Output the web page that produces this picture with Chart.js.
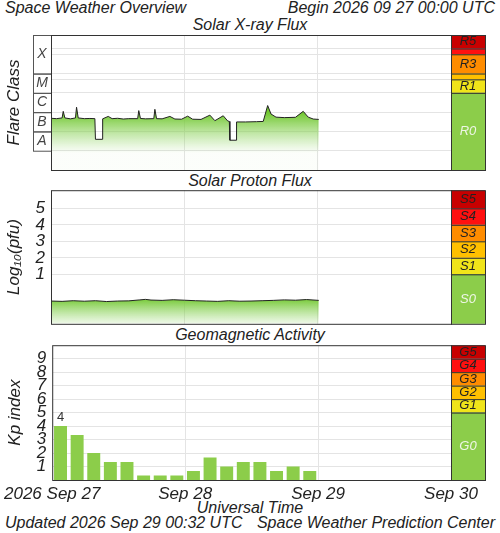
<!DOCTYPE html>
<html>
<head>
<meta charset="utf-8">
<script src="https://cdn.jsdelivr.net/npm/chart.js@4"></script>
<style>
  body { margin: 0; background: #fff; font-family: "Liberation Sans", sans-serif; font-style: italic; color: #222; }
  #page { position: relative; width: 500px; height: 533px; }
  .t { position: absolute; font-size: 16px; white-space: nowrap; }
  .c { position: absolute; left: 0; width: 500px; }
</style>
</head>
<body>
<div id="page">
  <div class="t" style="left:5px;top:-1px">Space Weather Overview</div>
  <div class="t" style="right:5px;top:-1px">Begin 2026 09 27 00:00 UTC</div>
  <div class="t" style="left:0;width:500px;text-align:center;top:16px">Solar X-ray Flux</div>
  <div class="t" style="left:0;width:500px;text-align:center;top:172px">Solar Proton Flux</div>
  <div class="t" style="left:0;width:500px;text-align:center;top:326px">Geomagnetic Activity</div>
  <div class="t" style="left:0;width:500px;text-align:center;top:499px">Universal Time</div>
  <div class="t" style="left:5px;top:514px">Updated 2026 Sep 29 00:32 UTC</div>
  <div class="t" style="right:5px;top:514px">Space Weather Prediction Center</div>
  <div class="c" style="top:34px;height:137px"><canvas id="xray"></canvas></div>
  <div class="c" style="top:174px;height:166px"><canvas id="proton"></canvas></div>
  <div class="c" style="top:329px;height:175px"><canvas id="kp"></canvas></div>
</div>
<script>
// hours since 2026-09-27 00:00 UTC
const xrayHours = [0, 1, 2, 2.2, 2.5, 3.5, 4.4, 4.6, 4.9, 6, 7, 7.9, 8.0, 9.2, 9.3, 10.3, 11, 12, 13, 14, 15.6, 15.8, 16.1, 17, 18.5, 18.7, 19, 20, 21.4, 22.3, 23.5, 24.6, 25.5, 27, 28.6, 29.5, 31, 31.8, 32.1, 32.2, 33.3, 33.4, 35, 37, 38.2, 39.0, 39.6, 40.5, 42, 44, 45.4, 46.3, 47.2, 48.2];
const xrayFlux = [4.8e-7, 4.6e-7, 5e-7, 1.1e-6, 5e-7, 4.5e-7, 5e-7, 1.8e-6, 5e-7, 4.6e-7, 4.7e-7, 4.6e-7, 3.9e-8, 3.9e-8, 4.5e-7, 6e-7, 4.6e-7, 4.8e-7, 4.4e-7, 4.6e-7, 4.6e-7, 1.2e-6, 4.7e-7, 4.5e-7, 4.6e-7, 1.4e-6, 4.6e-7, 4.5e-7, 6e-7, 4.4e-7, 4.3e-7, 6.2e-7, 4.3e-7, 4.2e-7, 7e-7, 3.6e-7, 6.5e-7, 3.5e-7, 3.3e-7, 3.5e-8, 3.5e-8, 3.1e-7, 3.1e-7, 3.2e-7, 3.3e-7, 2.2e-6, 8e-7, 5.5e-7, 5.2e-7, 5.4e-7, 1.1e-6, 5.5e-7, 4.4e-7, 4.2e-7];

const protonHours = [0, 2, 4, 6, 8, 10, 12, 14, 16, 17, 18, 20, 22, 24, 26, 28, 30, 32, 34, 36, 38, 40, 42, 44, 46, 48.2];
const protonLog = [-0.62, -0.64, -0.6, -0.63, -0.6, -0.65, -0.62, -0.61, -0.55, -0.52, -0.56, -0.58, -0.54, -0.57, -0.6, -0.62, -0.64, -0.6, -0.63, -0.62, -0.6, -0.58, -0.55, -0.57, -0.53, -0.58];

const kpHours = [1.5, 4.5, 7.5, 10.5, 13.5, 16.5, 19.5, 22.5, 25.5, 28.5, 31.5, 34.5, 37.5, 40.5, 43.5, 46.5];
const kpValues = [4, 3.33, 2, 1.33, 1.33, 0.33, 0.33, 0.33, 0.67, 1.67, 1, 1.33, 1.33, 0.67, 1, 0.67];

const dayLabels = ['2026 Sep 27', 'Sep 28', 'Sep 29', 'Sep 30'];
const protonTicks = [1, 2, 3, 4, 5];
const kpTicks = [1, 2, 3, 4, 5, 6, 7, 8, 9];

const flareClasses = [['X', 1e-4, 1e-2], ['M', 1e-5, 1e-4], ['C', 1e-6, 1e-5], ['B', 1e-7, 1e-6], ['A', 1e-8, 1e-7]];
const rScale = [['R5', 2e-3, 1e-2, '#c80000'], ['', 1e-3, 2e-3, '#ff1010'], ['R3', 1e-4, 1e-3, '#ff8c00'], ['', 5e-5, 1e-4, '#ffc000'], ['R1', 1e-5, 5e-5, '#f0e41a'], ['R0', 1e-9, 1e-5, '#8ccd4a']];
const sScale = [['S5', 5, 6.1, '#c80000'], ['S4', 4, 5, '#ff1010'], ['S3', 3, 4, '#ff8c00'], ['S2', 2, 3, '#ffc000'], ['S1', 1, 2, '#f0e41a'], ['S0', -2, 1, '#8ccd4a']];
const gScale = [['G5', 9, 10, '#c80000'], ['G4', 8, 9, '#ff1010'], ['G3', 7, 8, '#ff8c00'], ['G2', 6, 7, '#ffc000'], ['G1', 5, 6, '#f0e41a'], ['G0', 0, 5, '#8ccd4a']];

const GRID = '#e4e4e4';
const FONT = { family: 'Liberation Sans', size: 16, style: 'italic' };

// colour boxes to the right of the plot, placed with the y scale
function sideScale(levels) {
  return {
    id: 'side',
    afterDraw(chart) {
      const { ctx, chartArea: a, scales: { y } } = chart;
      const x0 = a.right, w = 34;
      ctx.save();
      ctx.font = 'italic 13px Liberation Sans';
      ctx.textAlign = 'center';
      ctx.textBaseline = 'middle';
      levels.forEach(([lab, lo, hi, col]) => {
        const top = Math.max(y.getPixelForValue(hi), a.top);
        const bot = Math.min(y.getPixelForValue(lo), a.bottom);
        ctx.fillStyle = col;
        ctx.fillRect(x0, top, w, bot - top);
        ctx.strokeStyle = '#333';
        ctx.lineWidth = 1;
        ctx.strokeRect(x0 + 0.5, top + 0.5, w, bot - top);
        if (lab) {
          ctx.fillStyle = lab.endsWith('0') ? '#eef6e6' : '#222';
          ctx.fillText(lab, x0 + w / 2, (top + bot) / 2);
        }
      });
      ctx.strokeStyle = '#333';
      ctx.strokeRect(a.left + 0.5, a.top + 0.5, a.width, a.height);
      ctx.restore();
    }
  };
}

const flareBoxes = {
  id: 'flare',
  afterDraw(chart) {
    const { ctx, chartArea: a, scales: { y } } = chart;
    ctx.save();
    ctx.font = 'italic 14px Liberation Sans';
    ctx.textAlign = 'center';
    ctx.textBaseline = 'middle';
    flareClasses.forEach(([lab, lo, hi]) => {
      const top = y.getPixelForValue(hi), bot = y.getPixelForValue(lo);
      ctx.strokeStyle = '#555';
      ctx.strokeRect(a.left - 18 + 0.5, top + 0.5, 18, bot - top);
      ctx.fillStyle = '#444';
      ctx.fillText(lab, a.left - 9, (top + bot) / 2);
    });
    ctx.restore();
  }
};

function fade(from, to) {
  return (c) => {
    const a = c.chart.chartArea;
    if (!a) return '#8ccd4a';
    const g = c.chart.ctx.createLinearGradient(0, a.top + from, 0, a.top + to);
    g.addColorStop(0, 'rgba(115,200,50,1)');
    g.addColorStop(1, 'rgba(150,215,110,0.03)');
    return g;
  };
}

function xAxis(showLabels) {
  return {
    type: 'linear', min: 0, max: 72, offset: false,
    display: true,
    border: { display: false },
    grid: { color: GRID, drawTicks: false, offset: false },
    ticks: {
      display: showLabels, stepSize: 24, padding: 4, autoSkip: false, maxRotation: 0,
      color: '#222', font: { ...FONT, size: 17 },
      callback: v => dayLabels[v / 24]
    },
    afterFit: s => { s.height = showLabels ? 24 : 0; }
  };
}

function yAxis(ticks, extra) {
  return Object.assign({
    border: { display: false },
    grid: { color: GRID, drawTicks: false },
    ticks: { padding: 6, autoSkip: false, color: '#222', font: { ...FONT, size: 17 } },
    afterBuildTicks: s => { s.ticks = ticks.map(v => ({ value: v })); },
    afterFit: s => { s.width = 47; }
  }, extra);
}

function yTitle(text) {
  return { display: true, text, color: '#222', font: { ...FONT, size: 17 }, padding: 0 };
}

const common = {
  responsive: true, maintainAspectRatio: false, animation: false,
  layout: { padding: { left: 4, right: 49, top: 1, bottom: 1 } },
  plugins: { legend: { display: false }, tooltip: { enabled: false } }
};

new Chart(document.getElementById('xray'), {
  type: 'line',
  data: {
    datasets: [{
      data: xrayHours.map((h, i) => ({ x: h, y: xrayFlux[i] })),
      borderColor: '#222', borderWidth: 1, pointRadius: 0, tension: 0,
      fill: 'start', backgroundColor: fade(78, 118)
    }]
  },
  options: {
    ...common,
    scales: {
      x: xAxis(false),
      y: yAxis([1e-8, 1e-7, 1e-6, 1e-5, 5e-5, 1e-4, 1e-3, 2e-3], {
        type: 'logarithmic', min: 1e-9, max: 1e-2,
        ticks: { display: false },
        title: yTitle('Flare Class')
      })
    }
  },
  plugins: [flareBoxes, sideScale(rScale)]
});

new Chart(document.getElementById('proton'), {
  type: 'line',
  data: {
    datasets: [{
      data: protonHours.map((h, i) => ({ x: h, y: protonLog[i] })),
      borderColor: '#222', borderWidth: 1, pointRadius: 0, tension: 0,
      fill: 'start', backgroundColor: fade(108, 137)
    }]
  },
  options: {
    ...common,
    scales: {
      x: xAxis(false),
      y: yAxis(protonTicks, { min: -2, max: 6.1, title: yTitle('Log\u2081\u2080(pfu)') })
    }
  },
  plugins: [sideScale(sScale)]
});

new Chart(document.getElementById('kp'), {
  type: 'bar',
  data: {
    datasets: [{
      data: kpHours.map((h, i) => ({ x: h, y: kpValues[i] })),
      backgroundColor: '#8ccd4a', borderWidth: 0,
      barPercentage: 0.78, categoryPercentage: 1
    }]
  },
  options: {
    ...common,
    layout: { padding: { left: 4, right: 49, top: 1, bottom: 0 } },
    scales: {
      x: xAxis(true),
      y: yAxis(kpTicks, { min: 0, max: 10, title: yTitle('Kp index') })
    }
  },
  plugins: [sideScale(gScale), {
    id: 'maxLabel',
    afterDatasetsDraw(chart) {
      const { ctx } = chart;
      const bar = chart.getDatasetMeta(0).data[0];
      ctx.save();
      ctx.font = '13px Liberation Sans';
      ctx.fillStyle = '#333';
      ctx.textAlign = 'center';
      ctx.fillText(String(kpValues[0]), bar.x, bar.y - 5);
      ctx.restore();
    }
  }]
});
</script>
</body>
</html>
